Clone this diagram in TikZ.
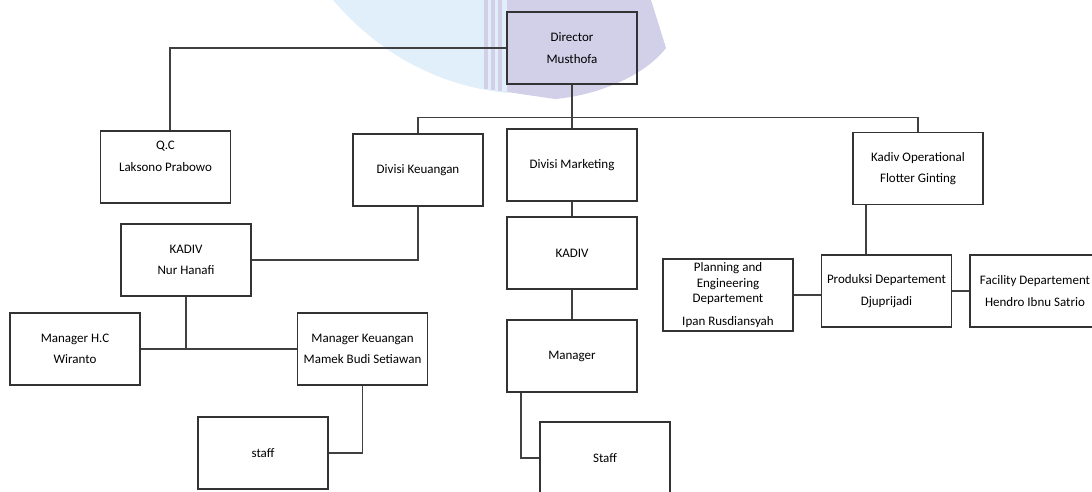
\documentclass[tikz,border=0pt]{standalone}
\usepackage{fontspec}
\setmainfont{Carlito}
\definecolor{wmblue}{RGB}{224,239,250}
\definecolor{wmlav}{RGB}{210,208,232}
\begin{document}
\begin{tikzpicture}[x=1pt,y=-1pt,
  orgbox/.style={draw=black!80, line width=1.1pt, minimum width=130pt, minimum height=72pt,
    inner sep=0pt, align=center, font=\fontsize{13}{21.5}\selectfont, text=black},
  link/.style={draw=black!75, line width=1.1pt}]
\useasboundingbox (0,0) rectangle (1092,491);

% watermark
\fill[wmblue] (333,0) .. controls (380,55) and (440,86) .. (507,93) -- (507,0) -- cycle;
\fill[wmlav] (507,0) -- (651,0) -- (666,48) .. controls (645,75) and (600,95) .. (555,99) -- (507,92) -- cycle;
\fill[wmlav] (484,0) rectangle (487.5,89);
\fill[wmlav] (491,0) rectangle (494.5,90);
\fill[wmlav] (498,0) rectangle (501.5,91);

% nodes
\node[orgbox] (dir) at (572,48) {Director\\Musthofa};
\node[orgbox] (qc) at (165.5,167) {Q.C\\Laksono Prabowo\\\mbox{}};
\node[orgbox] (keu) at (418,170) {Divisi Keuangan};
\node[orgbox] (mkt) at (572,165) {Divisi Marketing};
\node[orgbox] (ops) at (918,168.5) {Kadiv Operational\\Flotter Ginting};
\node[orgbox] (kadiva) at (186,260) {KADIV\\Nur Hanafi};
\node[orgbox] (mhc) at (75,349) {Manager H.C\\Wiranto};
\node[orgbox] (mkeu) at (362.5,349) {Manager Keuangan\\Mamek Budi Setiawan};
\node[orgbox] (staffa) at (263,453) {staff};
\node[orgbox] (kadivb) at (572,253) {KADIV};
\node[orgbox] (mgr) at (572,356) {Manager};
\node[orgbox] (staffb) at (605,458) {Staff};
\node[orgbox, font=\fontsize{13}{15.5}\selectfont] (plan) at (728,295) {Planning and\\Engineering\\Departement\\[7pt]Ipan Rusdiansyah};
\node[orgbox] (prod) at (886.5,291) {Produksi Departement\\Djuprijadi};
\node[orgbox] (fac) at (1035,291) {Facility Departement\\Hendro Ibnu Satrio};

% connectors
\coordinate (bus) at (572,117.5);
\coordinate (jhc) at (186,349);
\draw[link] (dir.west) -| ([xshift=4.5pt]qc.north);
\draw[link] (dir.south) -- (mkt.north);
\draw[link] (keu.north) |- (bus) -| (ops.north);
\draw[link] (keu.south) |- (kadiva.east);
\draw[link] (kadiva.south) -- (jhc);
\draw[link] (mhc.east) -- (mkeu.west);
\draw[link] (mkeu.south) |- (staffa.east);
\draw[link] (mkt.south) -- (kadivb.north);
\draw[link] (kadivb.south) -- (mgr.north);
\draw[link] ([xshift=-51pt]mgr.south) |- (staffb.west);
\draw[link] ([xshift=-52pt]ops.south) -- ([xshift=-52pt]ops.south |- prod.north);
\draw[link] (plan.east) -- (plan.east -| prod.west);
\draw[link] (prod.east) -- (fac.west);
\end{tikzpicture}
\end{document}
